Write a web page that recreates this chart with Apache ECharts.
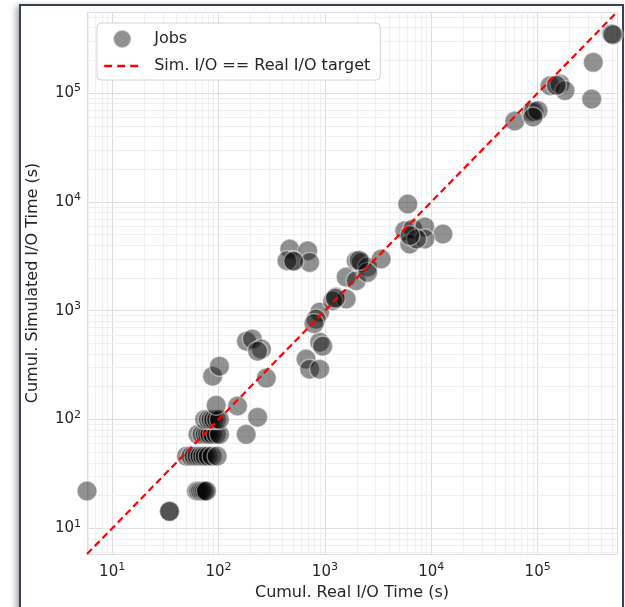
<!DOCTYPE html>
<html>
<head>
<meta charset="utf-8">
<script src="https://cdn.jsdelivr.net/npm/echarts@6/dist/echarts.min.js"></script>
<style>
  html, body { margin: 0; padding: 0; background: #fff; overflow: hidden; }
  #frame {
    position: absolute; left: 19px; top: 4px; width: 601px; height: 700px;
    border: 2px solid #39414f; box-shadow: -3px 2px 6px rgba(0,0,0,0.35); background: #fff;
  }
  #chart { position: absolute; left: 0; top: 0; width: 625px; height: 607px; }
</style>
</head>
<body>
<div id="frame"></div>
<div id="chart"></div>
<script>
// axis limits (same for both axes, the target line runs corner to corner)
var axisLimits = [5.8, 5.57e5];
var decades = [1, 10, 100, 1000, 10000, 100000];
var minorSteps = [2, 3, 4, 5, 6, 7, 8, 9];

// cumulative real I/O time per job (s)
var realIO = [
  5.8, 34.6, 34.6,
  62, 65, 68, 71, 74, 77,
  50, 55, 59, 63, 67, 71, 75, 80, 87, 97,
  64, 70, 75, 79, 83, 88, 95, 102,
  74, 80, 85, 90, 96, 102,
  95, 151, 182, 233, 88, 102, 281,
  183, 208, 253, 233,
  665, 719, 893, 893, 953, 893, 826, 790,
  1274, 1585, 1183, 1250,
  1585, 1968,
  1968, 2194, 2518, 2518, 2100,
  3380,
  467, 689, 498, 719, 440, 510,
  6010, 5630, 6700, 8690, 12850, 6280, 8690, 7270, 6300,
  61000, 87000, 92000, 100700, 90400, 130600, 162000, 180700, 150000, 333000, 322000, 496000, 510000
];
// cumulative simulated I/O time per job (s)
var simIO = [
  22, 14.3, 14.3,
  22, 22, 22, 22, 22, 22,
  46, 46, 46, 46, 46, 46, 46, 46, 46, 46,
  73, 73, 73, 73, 73, 73, 73, 73,
  100, 100, 100, 100, 100, 100,
  135, 133, 73, 105, 250, 309, 240,
  525, 548, 444, 425,
  359, 290, 290, 514, 472, 970, 837, 760,
  1334, 1280, 1234, 1300,
  2038, 1884,
  2877, 2780, 2518, 2250, 2900,
  2985,
  3690, 3557, 2877, 2780, 2877, 2850,
  9570, 5430, 5630, 5890, 5070, 4100, 4560, 4560, 4900,
  55500, 66700, 68000, 69000, 60400, 117000, 121500, 105500, 118000, 192000, 88300, 351000, 345000
];

var jobs = realIO.map(function (x, i) { return [x, simIO[i]]; });
var targetLine = [[axisLimits[0], axisLimits[0]], [axisLimits[1], axisLimits[1]]];

// minor grid lines at 2..9 x 10^k
var minorX = [], minorY = [];
decades.forEach(function (d) {
  minorSteps.forEach(function (s) {
    var v = d * s;
    if (v > axisLimits[0] && v < axisLimits[1]) {
      minorX.push({ xAxis: v });
      minorY.push({ yAxis: v });
    }
  });
});

var font = 'DejaVu Sans';
var textColor = '#262626';

function powLabel(v) {
  var e = Math.round(Math.log(v) / Math.LN10);
  if (Math.abs(v - Math.pow(10, e)) / v > 1e-6) return '';
  return '{b|10}{s|' + e + '}';
}
var labelRich = {
  b: { fontSize: 15, fontFamily: font, color: textColor, lineHeight: 20 },
  s: { fontSize: 11, fontFamily: font, color: textColor, lineHeight: 13, verticalAlign: 'top' }
};

function logAxis(name, isY) {
  return {
    type: 'log',
    logBase: 10,
    min: axisLimits[0],
    max: axisLimits[1],
    name: name,
    nameLocation: 'middle',
    nameGap: isY ? 46 : 28,
    nameTextStyle: { fontFamily: font, fontSize: 16, color: textColor },
    axisLine: { show: false },
    axisTick: { show: false },
    axisLabel: {
      margin: isY ? 6 : 8,
      formatter: powLabel,
      rich: labelRich
    },
    splitLine: { show: true, lineStyle: { color: '#dedede', width: 1 } }
  };
}

var chart = echarts.init(document.getElementById('chart'), null, { renderer: 'canvas' });
chart.setOption({
  animation: false,
  grid: { left: 87, right: 8, top: 12, bottom: 53, containLabel: false },
  xAxis: logAxis('Cumul. Real I/O Time (s)', false),
  yAxis: logAxis('Cumul. Simulated I/O Time (s)', true),
  legend: {
    orient: 'vertical',
    left: 97,
    top: 23,
    z: 20,
    padding: [6, 10, 6, 6],
    itemGap: 9,
    itemWidth: 36,
    itemHeight: 18,
    backgroundColor: '#fff',
    borderColor: '#d4d4d4',
    borderWidth: 1,
    borderRadius: 4,
    textStyle: { fontFamily: font, fontSize: 16, color: textColor, padding: [0, 0, 0, 9] },
    data: [
      { name: 'Jobs' },
      {
        name: 'Sim. I/O == Real I/O target',
        itemStyle: { opacity: 0 },
        lineStyle: { color: '#ff0000', width: 2.4, type: [8, 5] }
      }
    ]
  },
  series: [
    {
      name: 'grid-minor',
      type: 'line',
      data: [],
      z: 1,
      silent: true,
      markLine: {
        z: 1,
        silent: true,
        symbol: 'none',
        label: { show: false },
        lineStyle: { color: '#ececec', width: 0.8, type: 'solid' },
        data: minorX.concat(minorY),
        animation: false
      }
    },
    {
      name: 'Jobs',
      type: 'scatter',
      data: jobs,
      symbol: 'circle',
      symbolSize: 20,
      z: 3,
      itemStyle: { color: '#000', opacity: 0.43, borderColor: '#fff', borderWidth: 1.4 }
    },
    {
      name: 'Sim. I/O == Real I/O target',
      type: 'line',
      data: targetLine,
      symbol: 'none',
      showSymbol: false,
      z: 4,
      itemStyle: { color: '#ff0000' },
      lineStyle: { color: '#ff0000', width: 2.2, type: [7, 4] }
    }
  ]
});
</script>
</body>
</html>
